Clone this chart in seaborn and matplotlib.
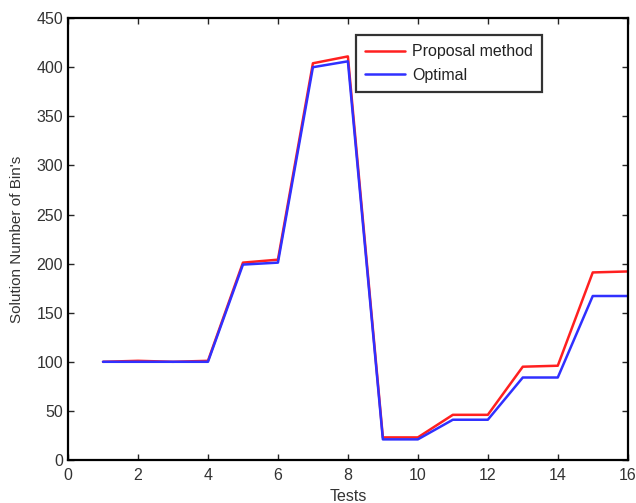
import pandas as pd
import seaborn as sns
import matplotlib.pyplot as plt

tests = list(range(1, 17))
proposal = [100, 101, 100, 101, 201, 204, 404, 411, 23, 23, 46, 46, 95, 96, 191, 192]
optimal = [100, 100, 100, 100, 199, 201, 400, 406, 21, 21, 41, 41, 84, 84, 167, 167]
series_names = ["Proposal method", "Optimal"]


def plot():
    df = pd.DataFrame({"Tests": tests * 2,
                       "value": proposal + optimal,
                       "method": [series_names[0]] * 16 + [series_names[1]] * 16})

    sns.set_style("ticks")
    plt.rcParams['font.family'] = ['Liberation Sans', 'DejaVu Sans']

    fig = plt.figure(figsize=(6.36, 5.03), dpi=100)
    ax = fig.add_axes([0.107, 0.0855, 0.88, 0.8785])
    sns.lineplot(data=df, x="Tests", y="value", hue="method",
                 palette=["#ff2020", "#3030ff"], linewidth=1.8, ax=ax)

    ax.set_xlim(0, 16)
    ax.set_ylim(0, 450)
    ax.set_xticks(range(0, 17, 2))
    ax.set_yticks(range(0, 451, 50))
    ax.tick_params(axis="x", pad=6)
    ax.tick_params(direction="in", top=True, right=True, length=4, width=1,
                   labelsize=11.5, labelcolor="#333333")
    for s in ax.spines.values():
        s.set_linewidth(1.6)
        s.set_color("black")
    ax.set_xlabel("Tests", fontsize=11.5, color="#333333", labelpad=4)
    ax.set_ylabel("Solution Number of Bin's", fontsize=11, color="#333333", labelpad=9)

    leg = ax.legend(loc="upper right", bbox_to_anchor=(0.846, 0.961), borderaxespad=0,
                    fontsize=11.5, frameon=True, fancybox=False, handlelength=2.5,
                    handletextpad=0.45, borderpad=0.55, labelspacing=0.55)
    leg.get_frame().set_edgecolor("black")
    leg.get_frame().set_linewidth(1.6)
    for t in leg.get_texts():
        t.set_color("#222222")

    fig.savefig("out.png", dpi=100)


if __name__ == "__main__":
    plot()
